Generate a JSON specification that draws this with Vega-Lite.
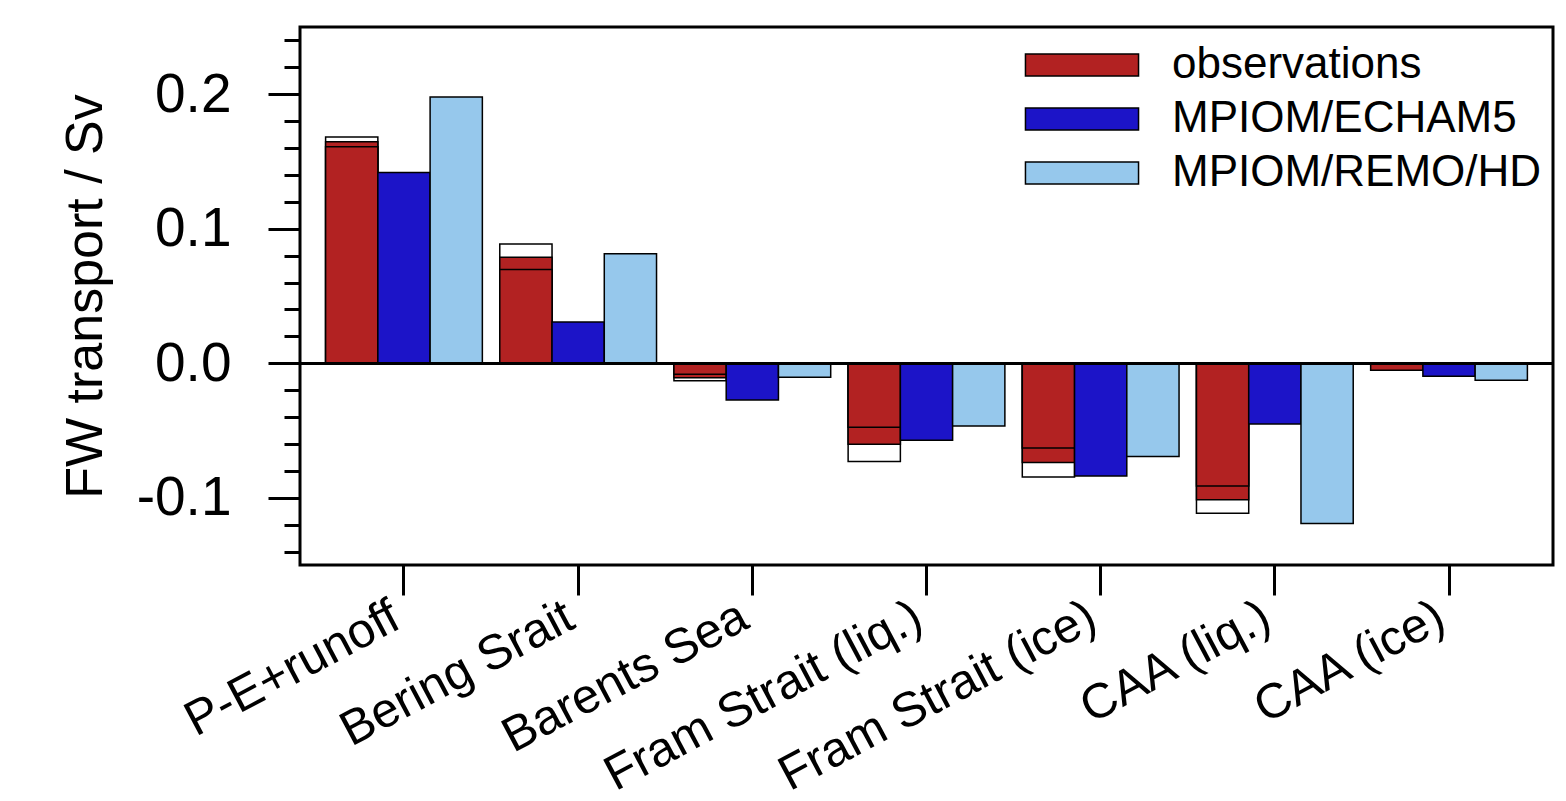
{
  "$schema": "https://vega.github.io/schema/vega-lite/v6.json",
  "width": 1253,
  "height": 538,
  "autosize": {"type": "none"},
  "padding": {"left": 300, "top": 27, "right": 13, "bottom": 236},
  "background": "white",
  "config": {
    "font": "Liberation Sans",
    "view": {"stroke": "black", "strokeWidth": 3},
    "bar": {"stroke": "black", "strokeWidth": 1.5}
  },
  "resolve": {"axis": {"y": "independent"}},
  "data": {
    "values": [
      {"region": "P-E+runoff", "series": "observations", "part": "main", "value": 0.161},
      {"region": "P-E+runoff", "series": "observations", "part": "upper", "value": 0.1646},
      {"region": "P-E+runoff", "series": "observations", "part": "range", "value": 0.1683},
      {"region": "P-E+runoff", "series": "MPIOM/ECHAM5", "part": "main", "value": 0.1418},
      {"region": "P-E+runoff", "series": "MPIOM/REMO/HD", "part": "main", "value": 0.198},
      {"region": "Bering Srait", "series": "observations", "part": "main", "value": 0.0697},
      {"region": "Bering Srait", "series": "observations", "part": "upper", "value": 0.0788},
      {"region": "Bering Srait", "series": "observations", "part": "range", "value": 0.0887},
      {"region": "Bering Srait", "series": "MPIOM/ECHAM5", "part": "main", "value": 0.0307},
      {"region": "Bering Srait", "series": "MPIOM/REMO/HD", "part": "main", "value": 0.0815},
      {"region": "Barents Sea", "series": "observations", "part": "main", "value": -0.0082},
      {"region": "Barents Sea", "series": "observations", "part": "upper", "value": -0.0107},
      {"region": "Barents Sea", "series": "observations", "part": "range", "value": -0.013},
      {"region": "Barents Sea", "series": "MPIOM/ECHAM5", "part": "main", "value": -0.0273},
      {"region": "Barents Sea", "series": "MPIOM/REMO/HD", "part": "main", "value": -0.0104},
      {"region": "Fram Strait (liq.)", "series": "observations", "part": "main", "value": -0.0476},
      {"region": "Fram Strait (liq.)", "series": "observations", "part": "upper", "value": -0.0602},
      {"region": "Fram Strait (liq.)", "series": "observations", "part": "range", "value": -0.0731},
      {"region": "Fram Strait (liq.)", "series": "MPIOM/ECHAM5", "part": "main", "value": -0.0573},
      {"region": "Fram Strait (liq.)", "series": "MPIOM/REMO/HD", "part": "main", "value": -0.0466},
      {"region": "Fram Strait (ice)", "series": "observations", "part": "main", "value": -0.063},
      {"region": "Fram Strait (ice)", "series": "observations", "part": "upper", "value": -0.0738},
      {"region": "Fram Strait (ice)", "series": "observations", "part": "range", "value": -0.0845},
      {"region": "Fram Strait (ice)", "series": "MPIOM/ECHAM5", "part": "main", "value": -0.0838},
      {"region": "Fram Strait (ice)", "series": "MPIOM/REMO/HD", "part": "main", "value": -0.0694},
      {"region": "CAA (liq.)", "series": "observations", "part": "main", "value": -0.0912},
      {"region": "CAA (liq.)", "series": "observations", "part": "upper", "value": -0.1014},
      {"region": "CAA (liq.)", "series": "observations", "part": "range", "value": -0.1115},
      {"region": "CAA (liq.)", "series": "MPIOM/ECHAM5", "part": "main", "value": -0.0451},
      {"region": "CAA (liq.)", "series": "MPIOM/REMO/HD", "part": "main", "value": -0.1192},
      {"region": "CAA (ice)", "series": "observations", "part": "main", "value": -0.0052},
      {"region": "CAA (ice)", "series": "MPIOM/ECHAM5", "part": "main", "value": -0.0097},
      {"region": "CAA (ice)", "series": "MPIOM/REMO/HD", "part": "main", "value": -0.0126}
    ]
  },
  "layer": [
    {
      "transform": [{"filter": "datum.part == 'range'"}],
      "mark": {"type": "bar", "fill": "white", "stroke": "black", "strokeWidth": 1.5},
      "encoding": {
        "x": {"field": "region", "type": "nominal", "sort": null,
              "scale": {"paddingInner": 0.1, "paddingOuter": 0.147},
              "axis": {"title": null, "domain": false, "ticks": true, "tickSize": 30, "tickWidth": 3, "tickColor": "black",
                       "labelAngle": -28, "labelAlign": "right", "labelBaseline": "middle", "labelFontSize": 49, "labelColor": "black",
                       "labelPadding": 18, "labelOffset": -8, "labelLimit": 600, "labelOverlap": false}},
        "xOffset": {"field": "series", "type": "nominal", "scale": {"domain": ["observations", "MPIOM/ECHAM5", "MPIOM/REMO/HD"], "paddingInner": 0, "paddingOuter": 0}},
        "y": {"field": "value", "type": "quantitative", "stack": null,
              "scale": {"domain": [-0.15, 0.25], "nice": false, "zero": false},
              "axis": {"orient": "left", "title": "FW transport / Sv", "titleFontSize": 52, "titleFontWeight": "normal", "titleColor": "black", "titlePadding": 24,
                       "domain": false, "grid": false, "labelOverlap": false, "tickCount": 40,
                       "values": [-0.1, 0, 0.1, 0.2],
                       "tickColor": "black", "tickWidth": 3, "tickSize": 32,
                       "labelExpr": "datum.value < -0.0001 ? '-' + format(abs(datum.value), '.1f') : format(datum.value, '.1f')",
                       "labelFontSize": 55, "labelColor": "black", "labelPadding": 37}}
      }
    },
    {
      "transform": [{"filter": "datum.part == 'upper'"}],
      "mark": {"type": "bar", "fill": "#B22222", "stroke": "black", "strokeWidth": 1.5},
      "encoding": {
        "x": {"field": "region", "type": "nominal", "sort": null},
        "xOffset": {"field": "series", "type": "nominal"},
        "y": {"field": "value", "type": "quantitative", "stack": null,
              "axis": {"orient": "left", "title": null, "domain": false, "grid": false, "labels": false, "tickCount": 40,
                       "values": [-0.14, -0.12, -0.08, -0.06, -0.04, -0.02, 0.02, 0.04, 0.06, 0.08, 0.12, 0.14, 0.16, 0.18, 0.22, 0.24],
                       "tickColor": "black", "tickWidth": 3, "tickSize": 16}}
      }
    },
    {
      "transform": [{"filter": "datum.part == 'main'"}],
      "mark": {"type": "bar", "stroke": "black", "strokeWidth": 1.5, "opacity": 1},
      "encoding": {
        "x": {"field": "region", "type": "nominal", "sort": null},
        "xOffset": {"field": "series", "type": "nominal"},
        "y": {"field": "value", "type": "quantitative", "stack": null, "axis": null},
        "color": {"field": "series", "type": "nominal",
                  "scale": {"domain": ["observations", "MPIOM/ECHAM5", "MPIOM/REMO/HD"], "range": ["#B22222", "#1C14C8", "#96C8EC"]},
                  "legend": {"title": null, "orient": "none", "legendX": 760, "legendY": 16,
                             "symbolType": "M-5.14,-1H5.14V1H-5.14Z", "symbolSize": 484,
                             "symbolStrokeColor": "black", "symbolStrokeWidth": 1.2, "symbolOpacity": 1,
                             "labelFontSize": 44, "labelColor": "black", "labelOffset": 68, "rowPadding": 10, "labelLimit": 600}}
      }
    },
    {
      "mark": {"type": "rule", "color": "black", "strokeWidth": 2},
      "encoding": {"y": {"datum": 0, "axis": null}}
    }
  ]
}
